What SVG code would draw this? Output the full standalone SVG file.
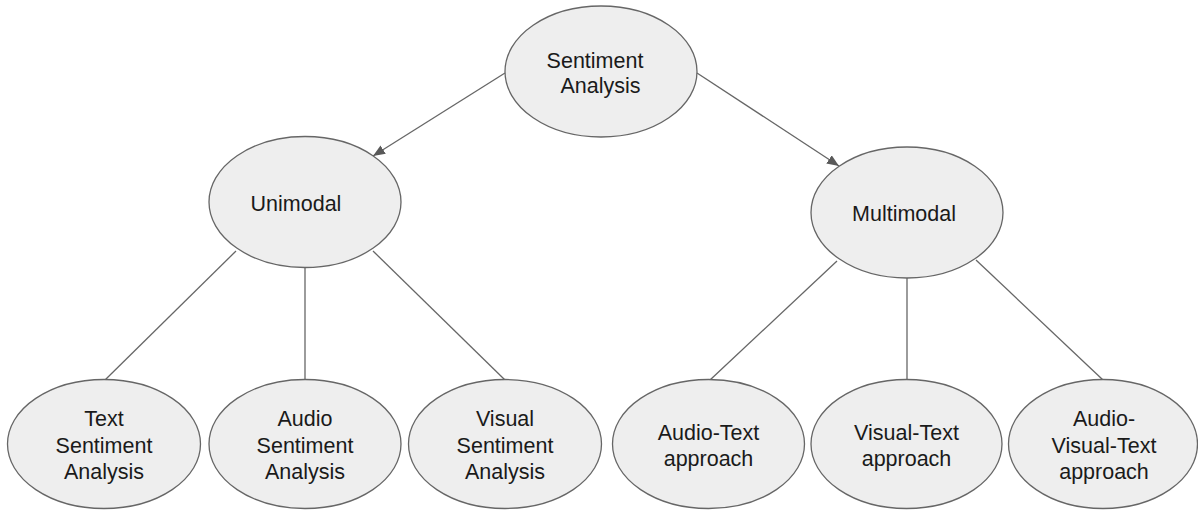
<svg xmlns="http://www.w3.org/2000/svg" width="1198" height="510" viewBox="0 0 1198 510">
<style>
.node ellipse{fill:#eeeeee;stroke:#666666;stroke-width:1.3}
.node text{font-family:"Liberation Sans",Arial,sans-serif;font-size:21.5px;fill:#1a1a1a;text-anchor:middle}
.conn line{stroke:#666666;stroke-width:1.3;fill:none}
</style>
<defs>
<marker id="arr" markerWidth="12" markerHeight="10" refX="12" refY="5" orient="auto" markerUnits="userSpaceOnUse">
<path d="M0,0 L12,5 L0,10 z" fill="#595959"/>
</marker>
</defs>
<rect width="1198" height="510" fill="#ffffff"/>
<g id="connectors" class="conn">
<line x1="505" y1="73" x2="373" y2="156" marker-end="url(#arr)"/>
<line x1="697" y1="73" x2="839" y2="166" marker-end="url(#arr)"/>
<line x1="236" y1="251" x2="105" y2="380"/>
<line x1="305" y1="268" x2="305" y2="380"/>
<line x1="373" y1="251" x2="505" y2="380"/>
<line x1="837" y1="261" x2="710" y2="380"/>
<line x1="907" y1="278" x2="907" y2="380"/>
<line x1="976" y1="260" x2="1103" y2="380"/>
</g>
<g id="sentiment-analysis" class="node">
<ellipse cx="601" cy="71.5" rx="96" ry="65.5"/>
<text x="595" y="68">Sentiment</text>
<text x="600.5" y="93">Analysis</text>
</g>
<g id="unimodal" class="node">
<ellipse cx="305" cy="202" rx="96" ry="65.5"/>
<text x="296" y="211">Unimodal</text>
</g>
<g id="multimodal" class="node">
<ellipse cx="907" cy="212.5" rx="96" ry="65.5"/>
<text x="904" y="221">Multimodal</text>
</g>
<g id="text-sa" class="node">
<ellipse cx="104" cy="444" rx="96.5" ry="64.5"/>
<text x="104" y="426">Text</text>
<text x="104" y="452.5">Sentiment</text>
<text x="104" y="479">Analysis</text>
</g>
<g id="audio-sa" class="node">
<ellipse cx="305" cy="444" rx="96" ry="64.5"/>
<text x="305" y="426">Audio</text>
<text x="305" y="452.5">Sentiment</text>
<text x="305" y="479">Analysis</text>
</g>
<g id="visual-sa" class="node">
<ellipse cx="505" cy="444" rx="96.5" ry="64.5"/>
<text x="505" y="426">Visual</text>
<text x="505" y="452.5">Sentiment</text>
<text x="505" y="479">Analysis</text>
</g>
<g id="audio-text" class="node">
<ellipse cx="708.5" cy="444" rx="96" ry="64.5"/>
<text x="708.5" y="440">Audio-Text</text>
<text x="708.5" y="466">approach</text>
</g>
<g id="visual-text" class="node">
<ellipse cx="906.5" cy="444" rx="95.5" ry="64.5"/>
<text x="906.5" y="440">Visual-Text</text>
<text x="906.5" y="466">approach</text>
</g>
<g id="audio-visual-text" class="node">
<ellipse cx="1103" cy="444" rx="94.5" ry="64.5"/>
<text x="1104" y="426">Audio-</text>
<text x="1104" y="452.5">Visual-Text</text>
<text x="1104" y="479">approach</text>
</g>
</svg>
